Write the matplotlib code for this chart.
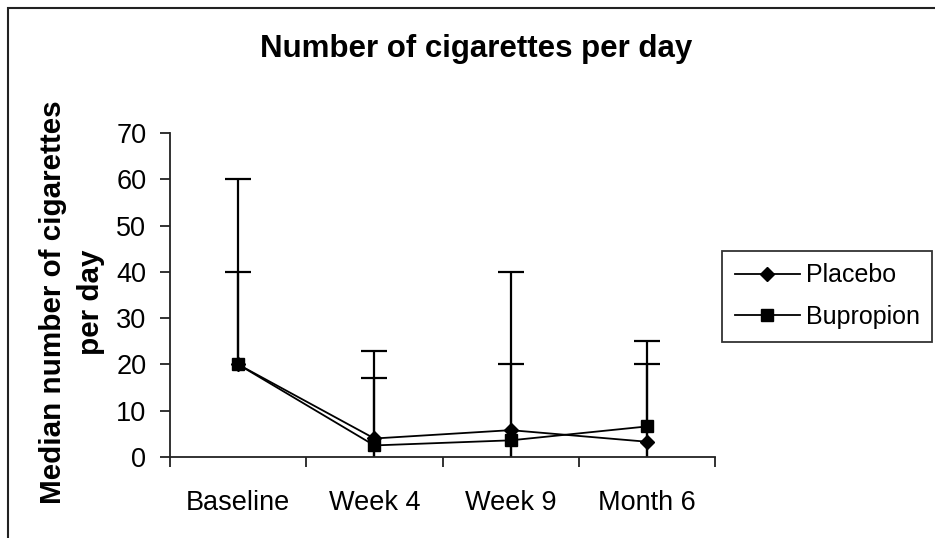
import matplotlib
matplotlib.use("Agg")
import matplotlib.pyplot as plt
from matplotlib.patches import Rectangle
import numpy as np

plt.rcParams['font.family'] = ['Liberation Sans', 'DejaVu Sans']

# Data
timepoints = ["Baseline", "Week 4", "Week 9", "Month 6"]
placebo = [20, 4.0, 5.8, 3.3]
bupropion = [20, 2.5, 3.6, 6.6]
placebo_low = [20, 0, 0, 0]
placebo_high = [40, 17, 20, 20]
bupropion_low = [20, 0, 0, 0]
bupropion_high = [60, 23, 40, 25]
y_ticks = [0, 10, 20, 30, 40, 50, 60, 70]

W, H = 935, 538
fig = plt.figure(figsize=(W / 100, H / 100), dpi=100)
fig.patch.set_facecolor("white")

ax = fig.add_axes([170 / W, (H - 457) / H, (715 - 170) / W, (457 - 133) / H])
x = np.arange(len(timepoints))

# Range bars: vertical line from low to high with a cap at the top only
for low, high in ((placebo_low, placebo_high), (bupropion_low, bupropion_high)):
    ax.vlines(x, low, high, colors="black", linewidth=1.6, zorder=2)
    ax.plot(x, high, linestyle="none", marker="_", markersize=19,
            markeredgewidth=1.6, color="black", zorder=2)

ax.plot(x, placebo, color="black", linewidth=1.3, marker="D",
        markersize=7.5, label="Placebo", zorder=3)
ax.plot(x, bupropion, color="black", linewidth=1.3, marker="s",
        markersize=8, label="Bupropion", zorder=3)

ax.set_xlim(-0.5, len(timepoints) - 0.5)
ax.set_ylim(0, 70)
ax.set_yticks(y_ticks)
ax.set_xticks(x)
ax.set_xticklabels(timepoints)
ax.set_xticks(np.arange(-0.5, len(timepoints), 1.0), minor=True)

for side in ("top", "right"):
    ax.spines[side].set_visible(False)
for side in ("left", "bottom"):
    ax.spines[side].set_linewidth(1.3)
    ax.spines[side].set_color("#222222")

ax.tick_params(axis="x", which="major", length=0, pad=24, labelsize=19.5)
ax.tick_params(axis="x", which="minor", length=7, width=1.3, direction="out",
               color="#222222")
ax.tick_params(axis="y", which="major", length=7, width=1.3, direction="out",
               pad=10, labelsize=19.5, color="#222222")

fig.text(476 / W, 1 - 57 / H, "Number of cigarettes per day",
         ha="center", va="baseline", fontsize=22.5, fontweight="bold")

fig.text(72 / W, 1 - 302 / H, "Median number of cigarettes\nper day",
         ha="center", va="center", rotation=90, fontsize=21.3,
         fontweight="bold", linespacing=1.45, multialignment="center")

leg = fig.legend(loc="upper left", bbox_to_anchor=(722 / W, 1 - 251 / H),
                 bbox_transform=fig.transFigure, borderaxespad=0,
                 frameon=True, fancybox=False, fontsize=18, numpoints=1,
                 handlelength=2.6, handletextpad=0.25, borderpad=0.5,
                 labelspacing=0.7)
leg.get_frame().set_edgecolor("black")
leg.get_frame().set_linewidth(1.3)

# Outer chart border (left and top edges visible)
fig.add_artist(Rectangle((8 / W, -0.1), 2, 1 - 8 / H + 0.1,
                         transform=fig.transFigure, fill=False,
                         edgecolor="#222222", linewidth=1.5))

fig.savefig("out.png", dpi=100)
